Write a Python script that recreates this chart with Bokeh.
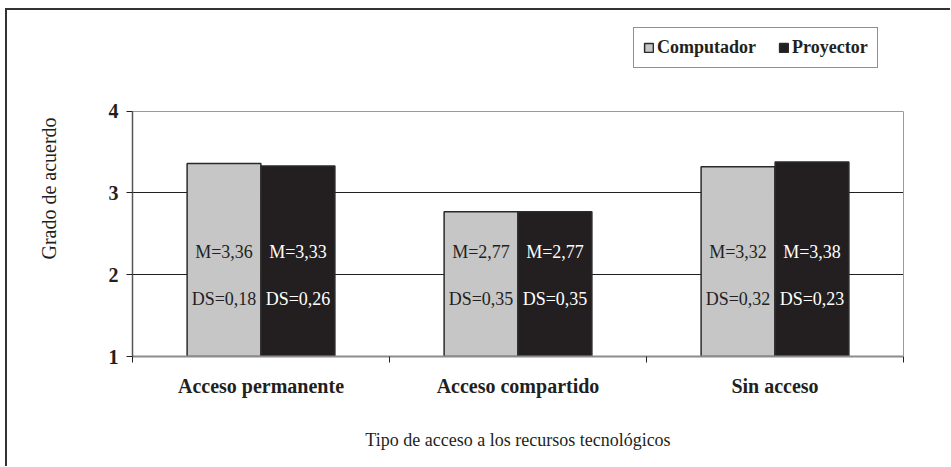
from bokeh.plotting import figure
from bokeh.models import (Range1d, FixedTicker, ColumnDataSource, Legend, LegendItem,
                          LinearAxis, Grid)
from bokeh.embed import file_html
from bokeh.resources import INLINE
from bokeh.core.properties import value

# ---- data ----
categories = ["Acceso permanente", "Acceso compartido", "Sin acceso"]
series = ["Computador", "Proyector"]
computador_m = [3.36, 2.77, 3.32]
proyector_m = [3.33, 2.77, 3.38]
computador_ds = [0.18, 0.35, 0.32]
proyector_ds = [0.26, 0.35, 0.23]
y_ticks = [1, 2, 3, 4]
x_title = "Tipo de acceso a los recursos tecnológicos"
y_title = "Grado de acuerdo"

FONT = "Liberation Serif"
DARK = "#231f20"
GRAY = "#c6c6c6"
FRAME_GRAY = "#9a9a9a"

def fmt(prefix, v):
    return f"{prefix}={v:.2f}".replace(".", ",")

n = len(categories)
centers = [i + 0.5 for i in range(n)]
bw = 0.287
off = 0.144

src_c = ColumnDataSource(dict(
    x=[c - off for c in centers], top=computador_m,
    m=[fmt("M", v) for v in computador_m], ds=[fmt("DS", v) for v in computador_ds],
    ym=[2.28] * n, yd=[1.70] * n))
src_p = ColumnDataSource(dict(
    x=[c + off for c in centers], top=proyector_m,
    m=[fmt("M", v) for v in proyector_m], ds=[fmt("DS", v) for v in proyector_ds],
    ym=[2.28] * n, yd=[1.70] * n))

W, H = 950, 466
# the frame extends above the value 4 so that the legend has room inside it
p = figure(width=W, height=H, output_backend="svg", toolbar_location=None,
           x_range=Range1d(0, n), y_range=Range1d(y_ticks[0], 5.11),
           min_border_left=132, min_border_right=47, min_border_top=20, min_border_bottom=110)
p.styles = {"box-shadow": "inset 5px 0 0 0 white, inset 0 8px 0 0 white, "
                          "inset 7px 0 0 0 #333333, inset 0 10px 0 0 #333333"}
p.background_fill_color = "white"
p.border_fill_color = None
p.outline_line_color = None

r_c = p.vbar(x="x", top="top", bottom=y_ticks[0], width=bw, source=src_c,
             fill_color=GRAY, line_color="#2a2a2a", line_width=1.5)
r_p = p.vbar(x="x", top="top", bottom=y_ticks[0], width=bw, source=src_p,
             fill_color=DARK, line_color="#2a2a2a", line_width=1.5)

for src, col in ((src_c, DARK), (src_p, "white")):
    for fld, yf in (("m", "ym"), ("ds", "yd")):
        p.text(x="x", y=yf, text=fld, source=src, text_font=value(FONT),
               text_font_size=value("18px"), text_color=col,
               text_align="center", text_baseline="middle")

# y axis
ya = p.yaxis[0]
ya.ticker = FixedTicker(ticks=y_ticks)
ya.bounds = (y_ticks[0], y_ticks[-1])
ya.major_label_text_font = FONT
ya.major_label_text_font_style = "bold"
ya.major_label_text_font_size = "20px"
ya.major_label_text_color = DARK
ya.major_tick_out = 6
ya.major_tick_in = 0
ya.major_tick_line_color = DARK
ya.minor_tick_line_color = None
ya.axis_line_color = "#555555"
ya.axis_line_width = 1.5
ya.major_label_standoff = 8
ya.axis_label = y_title
ya.axis_label_text_font = FONT
ya.axis_label_text_font_style = "normal"
ya.axis_label_text_font_size = "20px"
ya.axis_label_text_color = DARK
ya.axis_label_standoff = 46

# right frame edge (gray) as a bare axis
ra = LinearAxis(ticker=FixedTicker(ticks=[]), bounds=(y_ticks[0], y_ticks[-1]),
                axis_line_color=FRAME_GRAY, axis_line_width=1,
                major_tick_line_color=None, minor_tick_line_color=None,
                major_label_text_font_size="0px", major_label_standoff=0)
p.add_layout(ra, "right")

# grid
p.ygrid.ticker = FixedTicker(ticks=[t for t in y_ticks if y_ticks[0] < t < y_ticks[-1]])
p.ygrid.grid_line_color = DARK
p.ygrid.grid_line_width = 1
p.xgrid.grid_line_color = None
p.add_layout(Grid(dimension=1, ticker=FixedTicker(ticks=[y_ticks[-1]]),
                  grid_line_color=FRAME_GRAY, grid_line_width=1))

# x axis
xa = p.xaxis[0]
xa.ticker = FixedTicker(ticks=centers, minor_ticks=list(range(n + 1)))
xa.major_label_overrides = {c: lab for c, lab in zip(centers, categories)}
xa.major_label_text_font = FONT
xa.major_label_text_font_style = "bold"
xa.major_label_text_font_size = "20px"
xa.major_label_text_color = DARK
xa.major_tick_line_color = None
xa.major_tick_out = 0
xa.major_tick_in = 0
xa.minor_tick_out = 6
xa.minor_tick_in = 0
xa.minor_tick_line_color = DARK
xa.axis_line_color = "#8c8c8c"
xa.axis_line_width = 2
xa.major_label_standoff = 12
xa.axis_label = x_title
xa.axis_label_text_font = FONT
xa.axis_label_text_font_style = "normal"
xa.axis_label_text_font_size = "18px"
xa.axis_label_text_color = DARK
xa.axis_label_standoff = 30

# legend inside the (extended) frame, top right
lg = Legend(items=[LegendItem(label=series[0], renderers=[r_c]),
                   LegendItem(label=series[1], renderers=[r_p])],
            location=(501, 288), orientation="horizontal",
            label_text_font=FONT, label_text_font_style="bold",
            label_text_font_size="18px", label_text_color=DARK,
            glyph_width=11, glyph_height=11, label_standoff=3, spacing=22,
            padding=9, margin=0, border_line_color=DARK, border_line_width=1.5,
            background_fill_alpha=1)
p.add_layout(lg)

open("out.html", "w").write(file_html(p, INLINE))
